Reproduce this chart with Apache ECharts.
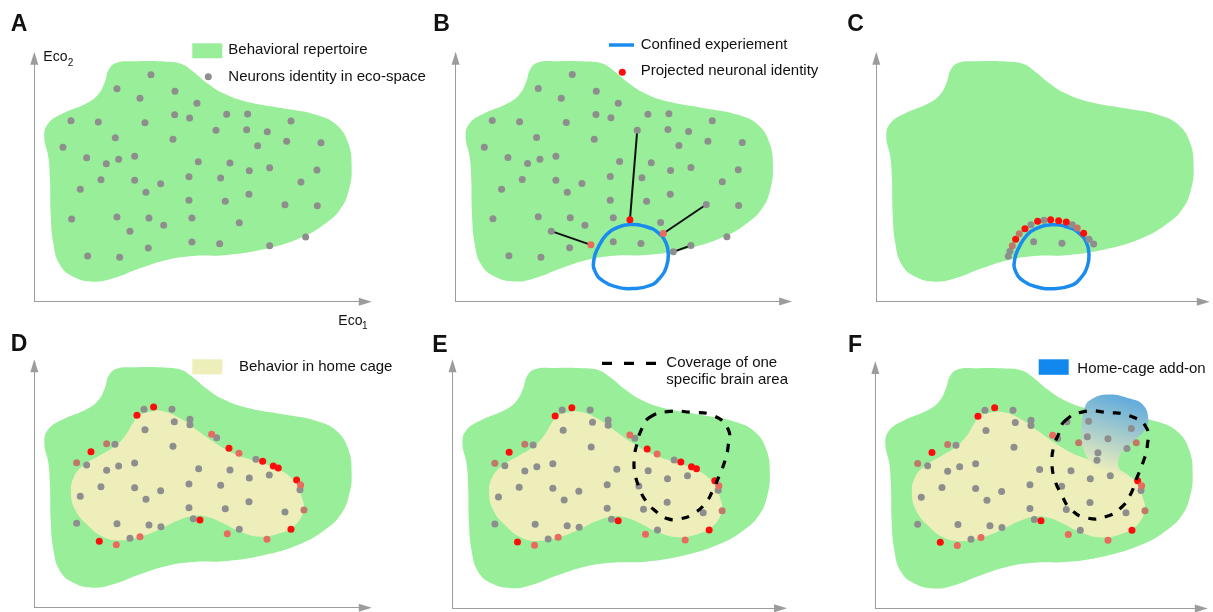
<!DOCTYPE html>
<html><head><meta charset="utf-8">
<script src="https://cdn.jsdelivr.net/npm/echarts/dist/echarts.min.js"></script>
<style>html,body{margin:0;padding:0;background:#fff}#c{width:1213px;height:612px}</style>
</head><body><div id="c"></div>
<script>
// ---- shapes (eco-space units) ----
const repertoireOutline = [[212,660],[224,697],[247,717],[297,721],[397,720],[442,713],[477,690],[517,657],[567,625],[637,600],[747,580],[847,560],[907,530],[942,475],[952,405],[945,340],[920,280],[870,232],[800,192],[700,160],[580,140],[477,137],[397,125],[317,100],[237,70],[177,60],[117,75],[77,110],[57,175],[49,265],[47,365],[42,435],[30,495],[42,535],[87,565],[157,595],[192,622]];
const homeCageOutline = [[312,575],[347,588],[387,589],[437,568],[487,533],[537,498],[587,468],[637,448],[687,433],[737,413],[772,388],[792,360],[803,330],[809,300],[797,265],[772,240],[737,223],[677,213],[617,228],[567,253],[517,273],[477,275],[427,260],[377,235],[317,213],[257,202],[207,212],[157,250],[122,295],[110,345],[119,393],[149,428],[197,457],[242,485],[272,515],[294,550]];
const confinedLoop = [[523,231],[573,224],[608,206],[631,176],[638,141],[633,106],[613,71],[583,48],[533,39],[483,44],[443,61],[418,91],[415,126],[428,163],[453,201],[483,221]];
const coverageE = [[590,572],[645,590],[715,588],[785,577],[827,537],[827,487],[817,442],[800,397],[780,352],[760,317],[725,285],[685,269],[645,269],[605,295],[580,322],[560,362],[547,407],[545,447],[553,492],[567,537]];
const coverageF = [[568,562],[623,590],[698,588],[763,578],[813,543],[816,488],[803,438],[783,388],[766,343],[738,303],[693,276],[638,271],[588,296],[558,343],[538,388],[530,438],[536,488],[550,523]];
const addOnOutline = [[629,605],[644,625],[694,642],[764,630],[804,610],[819,567],[808,535],[773,502],[743,475],[729,445],[734,417],[758,399],[776,385],[763,367],[698,402],[658,427],[629,467],[619,517],[621,567]];

// ---- neurons ----
const aGray = [[350,681],[248,639],[422,631],[317,610],[488,595],[110,543],[192,539],[332,537],[421,561],[466,551],[577,562],[640,563],[770,542],[243,492],[416,487],[545,514],[637,516],[699,510],[670,468],[757,481],[860,477],[86,463],[157,432],[216,414],[253,427],[301,436],[492,420],[587,416],[645,393],[706,402],[848,395],[200,366],[301,364],[379,354],[464,375],[559,371],[800,359],[138,337],[335,328],[464,304],[573,301],[644,322],[752,291],[849,288],[112,248],[248,254],[344,251],[473,251],[388,229],[615,237],[287,211],[473,179],[556,174],[706,168],[814,194],[342,161],[160,137],[256,133]];
const bProjGray = [[653,149]];
const bRed = [[523,245]];
const bSalmon = [[406,170],[623,204]];
const bLinks = [[545,514,523,245],[287,211,406,170],[752,291,623,204],[706,168,653,149]];

const cGray = [[396,136],[401,151],[464,231],[503,244],[588,231],[638,187],[652,173],[472,180],[557,175]];
const cRed = [[418,187],[446,219],[484,241],[523,246],[547,243],[570,239],[622,205]];
const cBrown = [[408,168],[429,204],[603,221]];

const dGray = [[329,595],[413,595],[467,565],[467,549],[420,558],[332,534],[242,490],[157,428],[217,412],[253,425],[301,434],[416,484],[547,510],[665,445],[493,417],[587,413],[645,389],[705,398],[797,354],[200,363],[301,360],[379,351],[464,371],[559,367],[138,334],[335,325],[464,300],[573,297],[644,318],[752,287],[127,253],[248,252],[344,248],[380,243],[477,267],[615,235],[287,208]];
const dRed = [[358,602],[308,577],[170,468],[584,478],[685,439],[717,425],[732,419],[787,383],[497,263],[770,235],[195,199]];
const dSalmon = [[532,520],[614,463],[799,368],[579,222],[698,205],[317,213],[246,189]];
const dBrown = [[217,492],[127,435],[809,293]];

const fGray = [[329,595],[413,595],[467,565],[467,549],[420,558],[332,534],[242,490],[157,428],[217,412],[253,425],[301,434],[416,484],[547,510],[665,445],[493,417],[587,413],[645,389],[705,398],[797,354],[200,363],[301,360],[379,351],[464,371],[559,367],[138,334],[335,325],[464,300],[573,297],[644,318],[752,287],[127,253],[248,252],[344,248],[380,243],[477,267],[615,235],[287,208],[575,560],[640,562],[636,515],[698,509],[768,540],[755,480],[668,467]];
const fRed = [[358,602],[308,577],[170,468],[787,383],[497,263],[770,235],[195,199]];
const fSalmon = [[532,520],[799,368],[579,222],[698,205],[317,213],[246,189]];
const fBrown = [[217,492],[127,435],[809,293],[610,497],[783,497]];

// ---- layout & style ----
const C = {green:'#99ee99', yellow:'#eeeebb', gray:'#8e8e8e', red:'#ff0d0d', salmon:'#ea6a60', brown:'#c27868', blue:'#1a8cf0', axis:'#9c9c9c', text:'#111'};
const FONT = "'Liberation Sans', Arial, sans-serif";
const panels = [
  {l:34.3, b:301.7, w:331, h:243.5},
  {l:455.6, b:301.5, w:330, h:243.3},
  {l:876.3, b:301.7, w:327, h:243.5},
  {l:34.3, b:607.7, w:331, h:241.9},
  {l:452.5, b:608.3, w:328, h:242.5},
  {l:875.3, b:608.5, w:326, h:241}
];
const UNIT = 3;

const grid = panels.map(p => ({left:p.l, top:p.b - p.h, width:p.w, height:p.h}));
const axLine = {show:true, onZero:false, symbol:['none','triangle'], symbolSize:[8,13], lineStyle:{color:C.axis, width:1}};
const xAxis = panels.map((p,i) => ({type:'value', gridIndex:i, min:0, max:p.w*UNIT, axisLine:axLine, axisTick:{show:false}, axisLabel:{show:false}, splitLine:{show:false}}));
const yAxis = panels.map((p,i) => ({type:'value', gridIndex:i, min:0, max:p.h*UNIT, axisLine:axLine, axisTick:{show:false}, axisLabel:{show:false}, splitLine:{show:false}}));

function poly(gi, pts, styleFn, z, smooth) {
  return {type:'custom', xAxisIndex:gi, yAxisIndex:gi, z:z, silent:true, data:pts, encode:{x:0, y:1},
    renderItem: function (params, api) {
      if (params.dataIndex !== 0) return null;
      const points = pts.map(q => api.coord(q));
      return {type:'polygon', shape:{points:points, smooth:smooth}, style:styleFn()};
    }};
}
function dots(gi, data, color) {
  return {type:'scatter', xAxisIndex:gi, yAxisIndex:gi, z:4, silent:true, data:data, symbolSize:7, itemStyle:{color:color, opacity:1}};
}
const fillG = () => ({fill:C.green});
const fillY = () => ({fill:C.yellow});
const loopS = () => ({fill:'none', stroke:C.blue, lineWidth:3.5});
const dashS = () => ({fill:'none', stroke:'#000', lineWidth:3.2, lineDash:[8,9]});
const addS = () => ({fill:new echarts.graphic.LinearGradient(0.7, 0, 0.35, 0.85, [{offset:0, color:'#5ba8de'}, {offset:1, color:C.yellow}])});

const series = [];
// A
series.push(poly(0, repertoireOutline, fillG, 1, 0.45));
series.push(dots(0, aGray, C.gray));
// B
series.push(poly(1, repertoireOutline, fillG, 1, 0.45));
series.push(poly(1, confinedLoop, loopS, 2, 0.5));
series.push({type:'custom', xAxisIndex:1, yAxisIndex:1, z:3, silent:true, data:bLinks, encode:{x:[0,2], y:[1,3]},
  renderItem: function (params, api) {
    const p1 = api.coord([api.value(0), api.value(1)]);
    const p2 = api.coord([api.value(2), api.value(3)]);
    return {type:'line', shape:{x1:p1[0], y1:p1[1], x2:p2[0], y2:p2[1]}, style:{stroke:'#111', lineWidth:2}};
  }});
series.push(dots(1, aGray, C.gray));
series.push(dots(1, bProjGray, C.gray));
series.push(dots(1, bRed, C.red));
series.push(dots(1, bSalmon, C.salmon));
// C
series.push(poly(2, repertoireOutline, fillG, 1, 0.45));
series.push(poly(2, confinedLoop, loopS, 2, 0.5));
series.push(dots(2, cGray, C.gray));
series.push(dots(2, cRed, C.red));
series.push(dots(2, cBrown, C.brown));
// D, E
[3,4].forEach(gi => {
  series.push(poly(gi, repertoireOutline, fillG, 1, 0.45));
  series.push(poly(gi, homeCageOutline, fillY, 1, 0.45));
  series.push(dots(gi, dGray, C.gray));
  series.push(dots(gi, dRed, C.red));
  series.push(dots(gi, dSalmon, C.salmon));
  series.push(dots(gi, dBrown, C.brown));
});
series.push(poly(4, coverageE, dashS, 5, 0.5));
// F
series.push(poly(5, repertoireOutline, fillG, 1, 0.45));
series.push(poly(5, homeCageOutline, fillY, 1, 0.45));
series.push(poly(5, addOnOutline, addS, 1, 0.45));
series.push(dots(5, fGray, C.gray));
series.push(dots(5, fRed, C.red));
series.push(dots(5, fSalmon, C.salmon));
series.push(dots(5, fBrown, C.brown));
series.push(poly(5, coverageF, dashS, 5, 0.5));

// ---- text ----
function txt(x, y, text, size, bold) {
  return {type:'text', x:x, y:y, silent:true, z:10,
    style:{text:text, font:(bold ? 'bold ' : '') + size + 'px ' + FONT, fill:C.text, textAlign:'left', textVerticalAlign:'middle', align:'left', verticalAlign:'middle'}};
}
const graphic = [
  txt(10.7, 25, 'A', 23, true), txt(433.3, 25, 'B', 23, true), txt(847.3, 25, 'C', 23, true),
  txt(10.7, 345, 'D', 23, true), txt(432.3, 345.2, 'E', 23, true), txt(848, 345.2, 'F', 23, true),
  txt(43.3, 57.5, 'Eco', 14), txt(67.8, 63.3, '2', 10),
  txt(338.3, 321.3, 'Eco', 14), txt(362, 326.5, '1', 10),
  {type:'rect', shape:{x:192.3, y:43.3, width:30, height:15}, style:{fill:C.green}, silent:true},
  txt(228.3, 49.8, 'Behavioral repertoire', 15),
  {type:'circle', shape:{cx:208.3, cy:76.7, r:3.5}, style:{fill:C.gray}, silent:true},
  txt(228.3, 77.3, 'Neurons identity in eco-space', 15),
  {type:'line', shape:{x1:609, y1:45, x2:634, y2:45}, style:{stroke:C.blue, lineWidth:3.5}, silent:true},
  txt(640.7, 45.3, 'Confined experiement', 15),
  {type:'circle', shape:{cx:622.3, cy:72.3, r:3.5}, style:{fill:C.red}, silent:true},
  txt(640.7, 70.8, 'Projected neuronal identity', 15),
  {type:'rect', shape:{x:192.3, y:359.3, width:30, height:15}, style:{fill:C.yellow}, silent:true},
  txt(239, 366.8, 'Behavior in home cage', 15),
  {type:'line', shape:{x1:602, y1:363.3, x2:656, y2:363.3}, style:{stroke:'#000', lineWidth:3.3, lineDash:[10,12]}, silent:true},
  txt(666.3, 363.3, 'Coverage of one', 15),
  txt(666.3, 379.8, 'specific brain area', 15),
  {type:'rect', shape:{x:1038.7, y:359.3, width:30, height:15.5}, style:{fill:'#1188ee'}, silent:true},
  txt(1077.3, 368.8, 'Home-cage add-on', 15)
];

const chart = echarts.init(document.getElementById('c'), null, {renderer:'canvas'});
chart.setOption({animation:false, backgroundColor:'#fff', grid:grid, xAxis:xAxis, yAxis:yAxis, series:series, graphic:graphic});
</script></body></html>
